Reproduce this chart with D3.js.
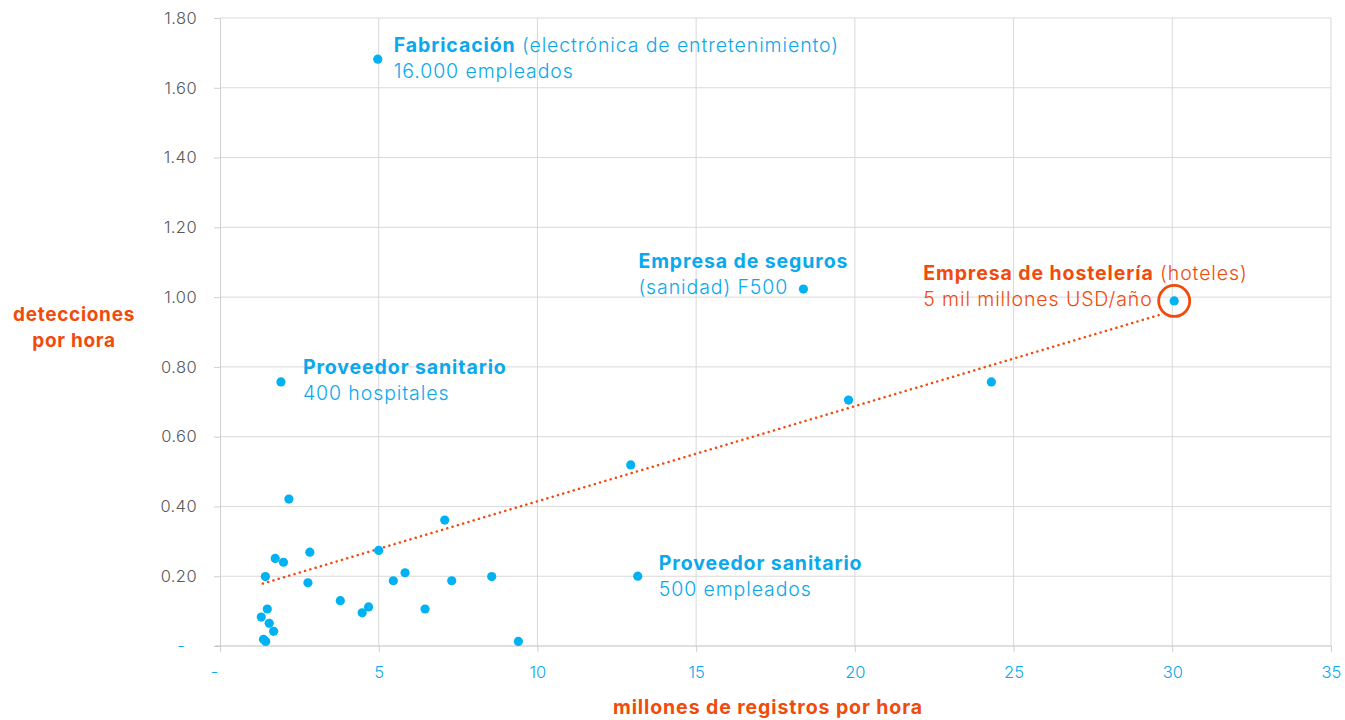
<!DOCTYPE html>
<head>
    <meta charset="utf-8">
    <title>Detecciones por hora</title>
    <script src="https://d3js.org/d3.v7.min.js"></script>
    <style>
    body { margin: 0; background: #fff; }
    svg text { font-family: Inter, "Open Sans", sans-serif; }
    </style>
</head>
<body>
<script>
// millones de registros por hora / detecciones por hora
var regX = [4.97, 1.92, 2.17, 18.38, 30.06, 24.30, 19.80, 12.94, 7.08, 13.16,
            1.74, 2.00, 2.83, 5.00, 1.43, 2.77, 5.46, 5.83, 7.30, 8.56,
            1.49, 1.30, 1.55, 1.69, 1.37, 1.44, 3.79, 4.48, 4.68, 6.46, 9.40];
var detY = [1.682, 0.757, 0.421, 1.023, 0.989, 0.757, 0.705, 0.519, 0.361, 0.200,
            0.251, 0.240, 0.269, 0.274, 0.199, 0.181, 0.187, 0.210, 0.187, 0.199,
            0.106, 0.083, 0.065, 0.042, 0.019, 0.013, 0.130, 0.095, 0.112, 0.106, 0.013];

var trendX = [1.35, 29.7];
var trendY = [0.179, 0.952];

var xTicks = [0, 5, 10, 15, 20, 25, 30, 35];
var yTicks = [0, 0.2, 0.4, 0.6, 0.8, 1.0, 1.2, 1.4, 1.6, 1.8];

// [x, y, bold, normal, second line, colour]
var notes = [
    [4.97, 1.682, "Fabricación", " (electrónica de entretenimiento)", "16.000 empleados", "blue"],
    [18.38, 1.023, "Empresa de seguros", "", "(sanidad) F500", "blue"],
    [30.06, 0.989, "Empresa de hostelería", " (hoteles)", "5 mil millones USD/año", "orange"],
    [1.92, 0.757, "Proveedor sanitario", "", "400 hospitales", "blue"],
    [13.16, 0.200, "Proveedor sanitario", "", "500 empleados", "blue"]
];
var highlight = 4;

var width = 1345, height = 720;
var blue = "#0aa8ec", dot = "#00b2f2", orange = "#f04b0c", grey = "#595959";

var svg = d3.select("body").append("svg")
    .attr("width", width)
    .attr("height", height);

var x = d3.scaleLinear().domain([0, 35]).range([220, 1331]);
var y = d3.scaleLinear().domain([0, 1.8]).range([646, 18]);

// grid
svg.append("g").selectAll("line").data(yTicks.slice(1)).enter().append("line")
    .attr("x1", x(0)).attr("x2", x(35))
    .attr("y1", d => y(d)).attr("y2", d => y(d))
    .attr("stroke", "#d9d9d9").attr("stroke-width", 1);
svg.append("g").selectAll("line").data(xTicks.slice(1)).enter().append("line")
    .attr("x1", d => x(d)).attr("x2", d => x(d))
    .attr("y1", y(0)).attr("y2", y(1.8))
    .attr("stroke", "#d9d9d9").attr("stroke-width", 1);

// axes
var yAxis = svg.append("g")
    .attr("transform", "translate(" + x(0) + ",0)")
    .call(d3.axisLeft(y).tickValues(yTicks).tickSize(6).tickPadding(17)
        .tickFormat(d => d === 0 ? "-" : d3.format(".2f")(d)));
yAxis.select(".domain").attr("stroke", "#d0d0d0");
yAxis.selectAll(".tick line").attr("stroke", "#d0d0d0");
yAxis.selectAll(".tick text")
    .attr("fill", d => d === 0 ? blue : grey)
    .attr("font-size", 16.5).attr("font-weight", 300).attr("letter-spacing", 0.4)
    .attr("dx", d => d === 0 ? -12 : 0);

var xAxis = svg.append("g")
    .attr("transform", "translate(0," + y(0) + ")")
    .call(d3.axisBottom(x).tickValues(xTicks).tickSize(6).tickPadding(14)
        .tickFormat(d => d === 0 ? "-" : d));
xAxis.select(".domain").attr("stroke", "#bfbfbf").attr("d", "M215,0H1331");
xAxis.selectAll(".tick line").attr("stroke", "#d0d0d0");
xAxis.selectAll(".tick text")
    .attr("fill", blue).attr("font-size", 16.5).attr("font-weight", 300)
    .attr("dx", d => d === 0 ? -6 : 0);

// axis titles
svg.append("text")
    .attr("x", 74).attr("y", 321)
    .attr("text-anchor", "middle")
    .attr("fill", orange).attr("font-size", 19).attr("font-weight", 700)
    .attr("letter-spacing", 0.7)
    .selectAll("tspan").data(["detecciones", "por hora"]).enter().append("tspan")
    .attr("x", 74).attr("dy", (d, i) => i ? 26 : 0)
    .text(d => d);

svg.append("text")
    .attr("x", 768).attr("y", 714)
    .attr("text-anchor", "middle")
    .attr("fill", orange).attr("font-size", 19.5).attr("font-weight", 700)
    .attr("letter-spacing", 0.9)
    .text("millones de registros por hora");

// trend line
svg.append("line")
    .attr("x1", x(trendX[0])).attr("y1", y(trendY[0]))
    .attr("x2", x(trendX[1])).attr("y2", y(trendY[1]))
    .attr("stroke", orange).attr("stroke-width", 2.5)
    .attr("stroke-dasharray", "0.1 5.4").attr("stroke-linecap", "round");

// points
svg.append("g").selectAll("circle").data(regX).enter().append("circle")
    .attr("cx", d => x(d))
    .attr("cy", (d, i) => y(detY[i]))
    .attr("r", 4.6)
    .attr("fill", dot);

svg.append("circle")
    .attr("cx", x(regX[highlight])).attr("cy", y(detY[highlight]))
    .attr("r", 15.5)
    .attr("fill", "none").attr("stroke", orange).attr("stroke-width", 2.8);

// annotations
var noteOffsets = [[16, -7], [-165, -21], [-251, -21], [22, -8], [21, -6]];
notes.forEach(function(n, i) {
    var col = n[5] === "orange" ? orange : blue;
    var t = svg.append("text")
        .attr("x", x(n[0]) + noteOffsets[i][0])
        .attr("y", y(n[1]) + noteOffsets[i][1])
        .attr("fill", col).attr("font-size", 19.5).attr("letter-spacing", 0.9);
    t.append("tspan").attr("font-weight", 700).text(n[2]);
    t.append("tspan").attr("font-weight", 300).text(n[3]);
    svg.append("text")
        .attr("x", x(n[0]) + noteOffsets[i][0])
        .attr("y", y(n[1]) + noteOffsets[i][1] + 26)
        .attr("fill", col).attr("font-size", 19.5).attr("font-weight", 300)
        .attr("letter-spacing", 0.9)
        .text(n[4]);
});
</script>
</body>
